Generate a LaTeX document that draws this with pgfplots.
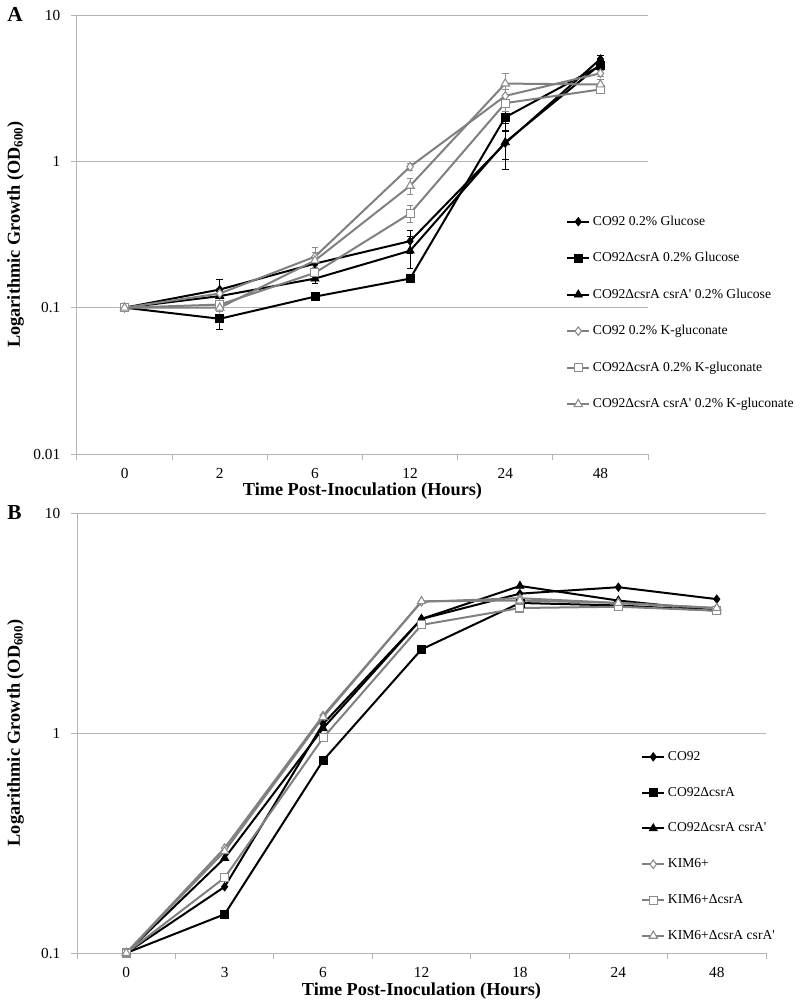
\documentclass[border=0pt]{standalone}
\usepackage{fontspec}
\setmainfont{Liberation Serif}[Ligatures=TeXOff]
\usepackage{pgfplots}
\pgfplotsset{compat=1.18}
\definecolor{gridGray}{HTML}{B4B4B4}
\definecolor{lineGray}{HTML}{808080}
\definecolor{markGray}{HTML}{8C8C8C}

\pgfplotsset{every axis/.append style={
    scale only axis, clip=false,
    axis x line*=bottom, axis y line*=left,
    axis line style={draw=gridGray, line width=0.75pt},
    ymajorgrids, major grid style={draw=gridGray, line width=0.75pt},
    tick align=outside, major tick length=4.5pt,
    tick style={draw=gridGray, line width=0.75pt},
    tick label style={font=\fontsize{11.5}{13}\selectfont},
    yticklabel style={xshift=-4.5pt},
    label style={font=\bfseries\fontsize{13.7}{16}\selectfont},
    legend cell align=left,
    legend style={draw=none, fill=none, anchor=north west, inner sep=0pt,
      font=\fontsize{10.2}{12}\selectfont},
    legend image code/.code={\draw[mark repeat=2,mark phase=2,#1]
      plot coordinates {(0pt,0pt) (8.25pt,0pt) (16.5pt,0pt)};},
}}
\tikzset{
  blk/.style={black, line width=1.5pt,
    mark options={solid, fill=black, draw=black, line width=0.5pt}},
  gry/.style={lineGray, line width=1.5pt,
    mark options={solid, fill=white, draw=markGray, line width=0.8pt}},
}

\begin{document}
\begin{tikzpicture}
% ---------------- panel A ----------------
\begin{axis}[
  anchor=north west, ymode=log, yminorticks=false,
  at={(57.75pt,-11.25pt)}, width=428.25pt, height=329.25pt,
  xmin=-0.5, xmax=5.5, ymin=0.01, ymax=10,
  xtick={-0.5,0.5,...,5.5},
  xticklabels={0,2,6,12,24,48,},
  xticklabel style={xshift=35.69pt, yshift=-3pt},
  ytick={0.01,0.1,1,10}, yticklabels={0.01,0.1,1,10},
  xlabel={Time Post-Inoculation (Hours)},
  ylabel={Logarithmic Growth (OD\textsubscript{600})},
  xlabel style={at={(axis description cs:0.5,-0.0843)}, anchor=center},
  ylabel style={at={(axis description cs:-0.1077,0.5)}, anchor=center},
  legend style={at={(rel axis cs:0.8564,0.549)}, row sep=14.8pt},
]
\addplot[blk, mark=diamond*, mark size=3.2pt,
  error bars/.cd, y dir=both, y explicit,
  error bar style={black, line width=0.6pt},
  error mark options={rotate=90, mark size=2.5pt, black, line width=0.6pt}] coordinates {
  (0,0.1) +- (0,0) (1,0.133) +- (0,0.022) (2,0.20) +- (0,0.02)
  (3,0.285) +- (0,0.05) (4,1.33) +- (0,0.3) (5,5.0) +- (0,0.3)};
\addlegendentry{CO92 0.2\% Glucose}
\addplot[blk, mark=square*, mark size=3pt,
  error bars/.cd, y dir=both, y explicit,
  error bar style={black, line width=0.6pt},
  error mark options={rotate=90, mark size=2.5pt, black, line width=0.6pt}] coordinates {
  (0,0.1) +- (0,0) (1,0.084) +- (0,0.013) (2,0.119) +- (0,0.005)
  (3,0.158) +- (0,0.01) (4,2.0) +- (0,0.4) (5,4.5) +- (0,0.3)};
\addlegendentry{CO92ΔcsrA 0.2\% Glucose}
\addplot[blk, mark=triangle*, mark size=3.6pt,
  error bars/.cd, y dir=both, y explicit,
  error bar style={black, line width=0.6pt},
  error mark options={rotate=90, mark size=2.5pt, black, line width=0.6pt}] coordinates {
  (0,0.1) +- (0,0) (1,0.12) +- (0,0.01) (2,0.158) +- (0,0.012)
  (3,0.245) +- (0,0.06) (4,1.35) +- (0,0.47) (5,4.6) +- (0,0.3)};
\addlegendentry{CO92ΔcsrA csrA' 0.2\% Glucose}
\addplot[gry, mark=diamond*, mark size=3.2pt,
  error bars/.cd, y dir=both, y explicit,
  error bar style={markGray, line width=0.6pt},
  error mark options={rotate=90, mark size=2.5pt, markGray, line width=0.6pt}] coordinates {
  (0,0.1) +- (0,0) (1,0.125) +- (0,0.01) (2,0.223) +- (0,0.035)
  (3,0.92) +- (0,0.05) (4,2.8) +- (0,0.3) (5,4.0) +- (0,0.2)};
\addlegendentry{CO92 0.2\% K-gluconate}
\addplot[gry, mark=square*, mark size=3pt,
  error bars/.cd, y dir=both, y explicit,
  error bar style={markGray, line width=0.6pt},
  error mark options={rotate=90, mark size=2.5pt, markGray, line width=0.6pt}] coordinates {
  (0,0.1) +- (0,0) (1,0.105) +- (0,0.01) (2,0.173) +- (0,0.02)
  (3,0.44) +- (0,0.06) (4,2.5) +- (0,0.3) (5,3.1) +- (0,0.2)};
\addlegendentry{CO92ΔcsrA 0.2\% K-gluconate}
\addplot[gry, mark=triangle*, mark size=3.6pt,
  error bars/.cd, y dir=both, y explicit,
  error bar style={markGray, line width=0.6pt},
  error mark options={rotate=90, mark size=2.5pt, markGray, line width=0.6pt}] coordinates {
  (0,0.1) +- (0,0) (1,0.10) +- (0,0.01) (2,0.21) +- (0,0.03)
  (3,0.68) +- (0,0.09) (4,3.4) +- (0,0.6) (5,3.35) +- (0,0.3)};
\addlegendentry{CO92ΔcsrA csrA' 0.2\% K-gluconate}
\end{axis}

% ---------------- panel B ----------------
\begin{axis}[
  anchor=north west, ymode=log, yminorticks=false,
  at={(57.75pt,-384.75pt)}, width=516.75pt, height=330pt,
  xmin=-0.5, xmax=6.5, ymin=0.1, ymax=10,
  xtick={-0.5,0.5,...,6.5},
  xticklabels={0,3,6,12,18,24,48,},
  xticklabel style={xshift=36.91pt, yshift=-3pt},
  ytick={0.1,1,10}, yticklabels={0.1,1,10},
  xlabel={Time Post-Inoculation (Hours)},
  ylabel={Logarithmic Growth (OD\textsubscript{600})},
  xlabel style={at={(axis description cs:0.5,-0.0864)}, anchor=center},
  ylabel style={at={(axis description cs:-0.0893,0.5)}, anchor=center},
  legend style={at={(rel axis cs:0.8186,0.465)}, row sep=14.6pt},
]
\addplot[blk, mark=diamond*, mark size=3.2pt] coordinates {
  (0,0.1) (1,0.20) (2,1.1) (3,3.3) (4,4.3) (5,4.6) (6,4.06)};
\addlegendentry{CO92}
\addplot[blk, mark=square*, mark size=3pt] coordinates {
  (0,0.1) (1,0.15) (2,0.75) (3,2.4) (4,3.9) (5,3.8) (6,3.6)};
\addlegendentry{CO92ΔcsrA}
\addplot[blk, mark=triangle*, mark size=3.6pt] coordinates {
  (0,0.1) (1,0.27) (2,1.05) (3,3.3) (4,4.66) (5,4.0) (6,3.6)};
\addlegendentry{CO92ΔcsrA csrA'}
\addplot[gry, mark=diamond*, mark size=3.2pt] coordinates {
  (0,0.1) (1,0.30) (2,1.2) (3,3.95) (4,4.1) (5,3.9) (6,3.7)};
\addlegendentry{KIM6+}
\addplot[gry, mark=square*, mark size=3pt] coordinates {
  (0,0.1) (1,0.22) (2,0.95) (3,3.1) (4,3.7) (5,3.75) (6,3.6)};
\addlegendentry{KIM6+ΔcsrA}
\addplot[gry, mark=triangle*, mark size=3.6pt] coordinates {
  (0,0.1) (1,0.29) (2,1.18) (3,3.97) (4,4.0) (5,3.9) (6,3.7)};
\addlegendentry{KIM6+ΔcsrA csrA'}
\end{axis}

\node[font=\bfseries\fontsize{16}{18}\selectfont, anchor=base west, inner sep=0pt] at (5.25pt,-16.5pt) {A};
\node[font=\bfseries\fontsize{16}{18}\selectfont, anchor=base west, inner sep=0pt] at (5.25pt,-389.25pt) {B};

\pgfresetboundingbox
\path[use as bounding box] (0,0) rectangle (600pt,-754.5pt);
\end{tikzpicture}
\end{document}
